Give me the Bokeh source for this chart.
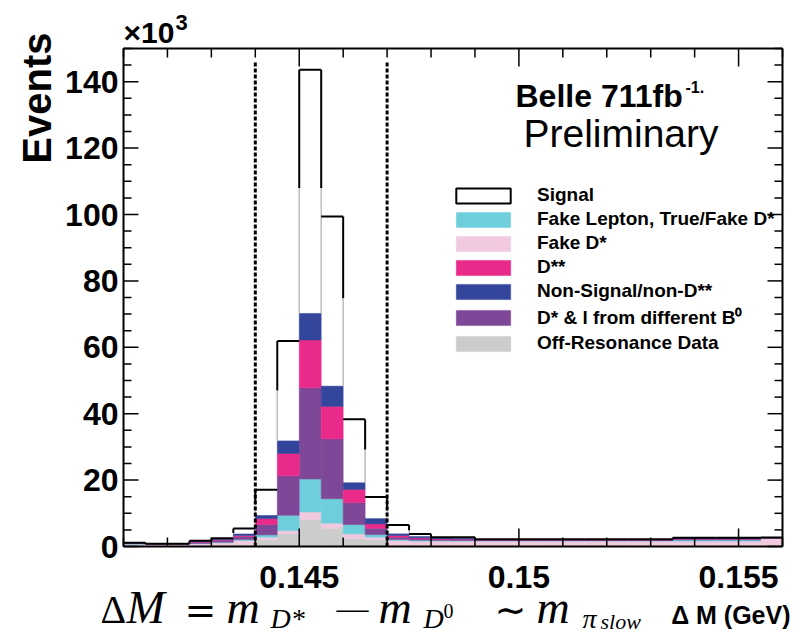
import math
import numpy as np
from bokeh.plotting import figure
from bokeh.models import Legend, LegendItem, Label, Range1d
from bokeh.embed import file_html
from bokeh.resources import INLINE

# ---------------- data (events, x10^3) ----------------
bin_width = 0.0005
bin_low = [0.1410, 0.1415, 0.1420, 0.1425, 0.1430, 0.1435, 0.1440, 0.1445, 0.1450, 0.1455,
           0.1460, 0.1465, 0.1470, 0.1475, 0.1480, 0.1485, 0.1490, 0.1495, 0.1500, 0.1505,
           0.1510, 0.1515, 0.1520, 0.1525, 0.1530, 0.1535, 0.1540, 0.1545, 0.1550, 0.1555]

off_res    = [0.0, 0.0, 0.0, 0.0, 0.2, 0.5, 2.0, 3.8, 8.0, 5.5, 2.3, 2.0, 0.3, 0.2, 0.0,
              0.0, 0.0, 0.0, 0.0, 0.0, 0.0, 0.0, 0.0, 0.0, 0.0, 0.0, 0.0, 0.0, 0.0, 0.0]
fake_dstar = [0.7, 0.8, 0.8, 0.8, 0.9, 1.3, 0.8, 1.0, 2.4, 1.5, 1.5, 0.8, 1.5, 1.4, 1.6,
              1.6, 1.6, 1.6, 1.6, 1.6, 1.6, 1.6, 1.6, 1.6, 1.6, 1.6, 1.6, 1.6, 1.6, 2.5]
fake_lep   = [0.1, 0.0, 0.0, 0.1, 0.2, 0.3, 0.7, 4.6, 9.9, 7.4, 2.8, 0.8, 0.3, 0.3, 0.2,
              0.2, 0.2, 0.2, 0.2, 0.2, 0.2, 0.2, 0.2, 0.2, 0.2, 0.4, 0.4, 0.4, 0.4, 0.05]
diff_b     = [0.1, 0.0, 0.0, 0.4, 0.6, 0.9, 3.1, 11.9, 27.5, 18.0, 6.6, 1.9, 0.7, 0.4, 0.3,
              0.2, 0.1, 0.1, 0.1, 0.1, 0.1, 0.1, 0.1, 0.1, 0.1, 0.2, 0.2, 0.2, 0.2, 0.05]
dss        = [0.0, 0.0, 0.0, 0.1, 0.2, 0.3, 1.8, 6.7, 14.4, 9.8, 4.0, 1.3, 0.5, 0.3, 0.2,
              0.2, 0.05, 0.05, 0.05, 0.05, 0.05, 0.05, 0.05, 0.05, 0.05, 0.1, 0.1, 0.1, 0.1, 0.0]
nonsig     = [0.2, 0.0, 0.05, 0.2, 0.2, 0.5, 0.95, 3.8, 8.0, 6.1, 2.0, 1.6, 0.5, 0.4, 0.3,
              0.2, 0.15, 0.15, 0.15, 0.15, 0.15, 0.15, 0.15, 0.15, 0.15, 0.3, 0.3, 0.3, 0.3, 0.05]
signal     = [0.0, 0.0, 0.0, 0.1, 0.2, 1.6, 7.75, 30.1, 73.4, 51.1, 19.1, 6.5, 2.7, 0.8, 0.2,
              0.4, 0.05, 0.05, 0.05, 0.05, 0.05, 0.05, 0.05, 0.05, 0.05, 0.05, 0.05, 0.05, 0.05, 0.05]
# inner (light-grey) signal outline level
inner      = [0.0, 0.0, 0.0, 0.0, 0.0, 4.1, 12.8, 47.0, 108.0, 74.8, 29.2, 11.2, 4.9, 0.0, 0.0,
              0.0, 0.0, 0.0, 0.0, 0.0, 0.0, 0.0, 0.0, 0.0, 0.0, 0.0, 0.0, 0.0, 0.0, 0.0]

cut_lo, cut_hi, cut_top = 0.144, 0.147, 146.0

components = [
    ("Off-Resonance Data", off_res, "#cbcccb"),
    ("Fake D*", fake_dstar, "#f1cae0"),
    ("Fake Lepton, True/Fake D*", fake_lep, "#6fcedb"),
    ("D* & l from different B\u2070", diff_b, "#7f4797"),
    ("D**", dss, "#ea2a8b"),
    ("Non-Signal/non-D**", nonsig, "#34469b"),
]
legend_order = ["Fake Lepton, True/Fake D*", "Fake D*", "D**", "Non-Signal/non-D**",
                "D* & l from different B\u2070", "Off-Resonance Data"]

x_lo, x_hi, y_lo, y_hi = 0.141, 0.156, 0.0, 150.0
xticks = [0.145, 0.150, 0.155]
xtick_labels = ["0.145", "0.15", "0.155"]
xminor = [0.141, 0.142, 0.143, 0.144, 0.146, 0.147, 0.148, 0.149, 0.151, 0.152,
          0.153, 0.154, 0.156]
yticks = [0, 20, 40, 60, 80, 100, 120, 140]
ytick_labels = ["0", "20", "40", "60", "80", "100", "120", "140"]
yminor = [5, 10, 15, 25, 30, 35, 45, 50, 55, 65, 70, 75, 85, 90, 95, 105, 110, 115,
          125, 130, 135, 145, 150]

# ---------------- layout geometry (pixels) ----------------
W, H = 794, 634                 # canvas
BOX_L, BOX_R, BOX_T, BOX_B = 123, 782, 48, 546   # axes box on the canvas
SX = (BOX_R - BOX_L) / (x_hi - x_lo)
SY = (BOX_B - BOX_T) / (y_hi - y_lo)
DESC = 0.212                    # font descent (em)


def X(px):
    return x_lo + (px - BOX_L) / SX


def Y(py):
    return y_lo + (BOX_B - py) / SY


p = figure(width=W, height=H, output_backend="svg", toolbar_location=None,
           x_range=Range1d(X(0), X(W)), y_range=Range1d(Y(H), Y(0)),
           x_axis_location=None, y_axis_location=None, title_location=None,
           min_border_left=0, min_border_right=0, min_border_top=0, min_border_bottom=0)
p.grid.visible = False
p.outline_line_color = None
p.background_fill_color = "white"
p.border_fill_color = "white"

sans = "Liberation Sans"
serif = "Liberation Serif"
symf = "DejaVu Sans"


def text_at(px, base, text, size, font=sans, style="normal", align="left"):
    """Label whose alphabetic baseline sits at canvas pixel row `base`."""
    p.add_layout(Label(x=X(px), y=Y(base + DESC * size), text=text, text_font=font,
                       text_font_size=f"{size}px", text_font_style=style,
                       text_color="black", text_align=align, text_baseline="bottom"))


# ---------------- stacked histogram ----------------
xl = np.array(bin_low)
xr = xl + bin_width
bottom = np.zeros(len(xl))
renderers = {}
for name, vals, col in components:
    v = np.array(vals)
    r = p.quad(left=xl, right=xr, bottom=bottom, top=bottom + v, fill_color=col,
               line_color=col, line_width=0.5)
    renderers[name] = r
    bottom = bottom + v
bg_top = bottom
total = bg_top + np.array(signal)
inn = np.array(inner)

# vertical edges of the signal outline: black step, light-grey inner edges
ex, by0, by1 = [], [], []
ex_g, gy0, gy1 = [], [], []
for j in range(1, len(xl)):
    hi = max(total[j - 1], total[j])
    lo = min(total[j - 1], total[j])
    imax = max(inn[j - 1], inn[j])
    clip_lo = max(lo, imax)
    if hi > clip_lo:
        ex.append(xl[j]); by0.append(clip_lo); by1.append(hi)
    bgmax = max(bg_top[j - 1], bg_top[j])
    gtop = min(imax, hi)
    if gtop > bgmax:
        ex_g.append(xl[j]); gy0.append(bgmax); gy1.append(gtop)
p.segment(x0=ex_g, y0=gy0, x1=ex_g, y1=gy1, line_color="#bdbdbd", line_width=1.5)
p.segment(x0=ex, y0=by0, x1=ex, y1=by1, line_color="black", line_width=2)
# horizontal tops of the signal (also the legend swatch)
sig_r = p.quad(left=xl, right=xr, bottom=total, top=total, fill_color="white",
               line_color="black", line_width=2)

# cut lines
p.segment(x0=[cut_lo, cut_hi], y0=[0, 0], x1=[cut_lo, cut_hi], y1=[cut_top, cut_top],
          line_color="black", line_width=3, line_dash="4 2")

# ---------------- axes box and ticks ----------------
p.segment(x0=[x_lo, x_lo, x_lo, x_hi], y0=[y_lo, y_hi, y_lo, y_lo],
          x1=[x_hi, x_hi, x_lo, x_hi], y1=[y_lo, y_hi, y_hi, y_hi],
          line_color="black", line_width=2)
tx = xticks + xminor
tlen = [18 if t in xticks else 9 for t in tx]
p.segment(x0=tx, x1=tx, y0=[y_lo] * len(tx), y1=[y_lo + L / SY for L in tlen],
          line_color="black", line_width=1.5)
p.segment(x0=tx, x1=tx, y0=[y_hi - L / SY for L in tlen], y1=[y_hi] * len(tx),
          line_color="black", line_width=1.5)
ty = yticks + yminor
rlen = [15 if t in yticks else 8 for t in ty]
p.segment(x0=[x_hi - L / SX for L in rlen], x1=[x_hi] * len(ty), y0=ty, y1=ty,
          line_color="black", line_width=1.5)
p.segment(x0=[x_lo] * len(ty), x1=[x_lo + L / SX for L in rlen], y0=ty, y1=ty,
          line_color="black", line_width=1.5)

# tick labels
for t, s in zip(xticks, xtick_labels):
    p.add_layout(Label(x=t, y=Y(581 + DESC * 32), text=s, text_font=sans,
                       text_font_size="32px", text_font_style="bold", text_color="black",
                       text_align="center", text_baseline="bottom"))
for t, s in zip(yticks, ytick_labels):
    p.add_layout(Label(x=X(118), y=t, text=s, text_font=sans, text_font_size="32px",
                       text_font_style="bold", text_color="black", text_align="right",
                       text_baseline="middle"))

# axis titles and exponent
p.add_layout(Label(x=X(36), y=Y(32), text="Events", text_font=sans, text_font_size="40px",
                   text_font_style="bold", text_color="black", text_align="right",
                   text_baseline="middle", angle=math.pi / 2))
text_at(123, 42, "\u00d710", 30, style="bold")
text_at(175, 25, "3", 22, style="bold")

# ---------------- texts in frame ----------------
text_at(515, 107, "Belle 711fb", 32, style="bold")
text_at(685, 89, "-1.", 16, style="bold")
text_at(523, 146, "Preliminary", 39)

# x-axis title: formula (serif) + "Δ M (GeV)"
xl_parts = [
    (100, 623, "\u0394", 40, serif, "normal"),
    (126, 623, "M", 46, serif, "italic"),
    (184, 623, "=", 38, symf, "normal"),
    (226, 623, "m", 46, serif, "italic"),
    (270, 628, "D*", 28, serif, "italic"),
    (336, 619, "\u2014", 32, serif, "normal"),
    (378, 623, "m", 46, serif, "italic"),
    (423, 628, "D", 28, serif, "italic"),
    (443, 613, "0", 20, serif, "normal"),
    (494, 623, "\u223c", 38, symf, "normal"),
    (536, 623, "m", 46, serif, "italic"),
    (582, 628, "\u03c0", 28, serif, "italic"),
    (600, 629, "slow", 22, serif, "italic"),
]
for x, y, t, s, f, st in xl_parts:
    text_at(x, y, t, s, font=f, style=st)
text_at(790, 623, "\u0394 M (GeV)", 25, style="bold", align="right")

# ---------------- legend ----------------
items = [LegendItem(label="Signal", renderers=[sig_r])]
for name in legend_order:
    items.append(LegendItem(label=name, renderers=[renderers[name]]))
legend = Legend(items=items, location=(449, H - 354), border_line_color=None,
                background_fill_alpha=0, label_text_font=sans, label_text_font_size="19px",
                label_text_font_style="bold", label_text_color="black",
                glyph_width=68, glyph_height=19, label_height=19, spacing=2,
                padding=3, margin=0, label_standoff=20)
p.add_layout(legend)

open("out.html", "w").write(file_html(p, INLINE))
